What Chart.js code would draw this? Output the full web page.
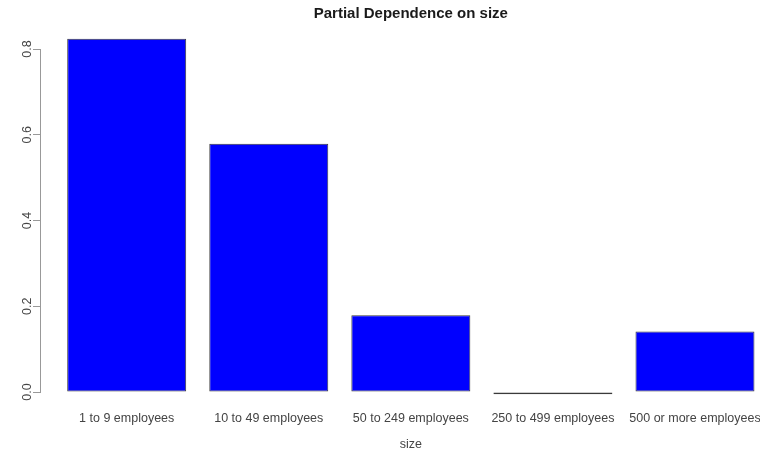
<!DOCTYPE html>
<html>
<head>
<meta charset="utf-8">
<script src="https://cdn.jsdelivr.net/npm/chart.js@4/dist/chart.umd.min.js"></script>
<style>
  html, body { margin: 0; padding: 0; background: #ffffff; }
  #c { display: block; }
</style>
</head>
<body>
<canvas id="c" width="760" height="455"></canvas>
<script>
const categories = ['1 to 9 employees', '10 to 49 employees', '50 to 249 employees', '250 to 499 employees', '500 or more employees'];
const values = [0.824, 0.579, 0.179, -0.005, 0.141];
const yTicks = [0, 0.2, 0.4, 0.6, 0.8];
const chartTitle = 'Partial Dependence on size';
const xTitle = 'size';

const FONT = '"Liberation Sans", Arial, Helvetica, sans-serif';

const textPlugin = {
  id: 'rText',
  afterDraw(chart) {
    const ctx = chart.ctx;
    const xs = chart.scales.x;
    const cx = (xs.getPixelForValue(1) + xs.getPixelForValue(categories.length)) / 2;
    ctx.save();
    ctx.textAlign = 'center';
    ctx.textBaseline = 'alphabetic';
    ctx.fillStyle = '#1a1a1a';
    ctx.font = 'bold 15px ' + FONT;
    ctx.fillText(chartTitle, cx, 18);
    ctx.fillStyle = '#444';
    ctx.font = '12.5px ' + FONT;
    ctx.fillText(xTitle, cx, 448);
    ctx.restore();
  }
};

new Chart(document.getElementById('c'), {
  type: 'bar',
  data: {
    datasets: [{
      data: values.map((v, i) => ({ x: i + 1, y: v })),
      backgroundColor: '#0000ff',
      borderColor: '#3a3a3a',
      borderWidth: 1,
      borderSkipped: false,
      categoryPercentage: 1,
      barPercentage: 0.8376,
      clip: false
    }]
  },
  options: {
    responsive: false,
    animation: false,
    devicePixelRatio: 1,
    layout: { padding: { top: 49, left: 0, right: 0, bottom: 0 } },
    plugins: { legend: { display: false }, tooltip: { enabled: false }, title: { display: false } },
    scales: {
      x: {
        type: 'linear',
        min: 0.3897,
        max: 5.4577,
        offset: false,
        grid: { display: false, drawTicks: false, offset: false },
        border: { display: false },
        ticks: {
          autoSkip: false,
          maxRotation: 0,
          minRotation: 0,
          padding: 19,
          color: '#444',
          font: { family: FONT, size: 12.5 },
          callback: (v, i) => categories[i]
        },
        afterBuildTicks: s => { s.ticks = categories.map((c, i) => ({ value: i + 1 })); },
        afterFit: s => { s.paddingLeft = 0; s.paddingRight = 0; s.height = 63; }
      },
      y: {
        type: 'linear',
        position: 'left',
        min: 0,
        max: 0.8,
        border: { display: true, color: '#999', width: 1 },
        grid: { drawOnChartArea: false, drawTicks: true, tickLength: 7, color: '#999' },
        ticks: {
          minRotation: 90,
          maxRotation: 90,
          crossAlign: 'center',
          padding: -3,
          color: '#444',
          font: { family: FONT, size: 12.5 },
          callback: v => Number(v).toFixed(1)
        },
        afterBuildTicks: s => { s.ticks = yTicks.map(v => ({ value: v })); },
        afterFit: s => { s.width = 40; }
      }
    }
  },
  plugins: [textPlugin]
});
</script>
</body>
</html>
